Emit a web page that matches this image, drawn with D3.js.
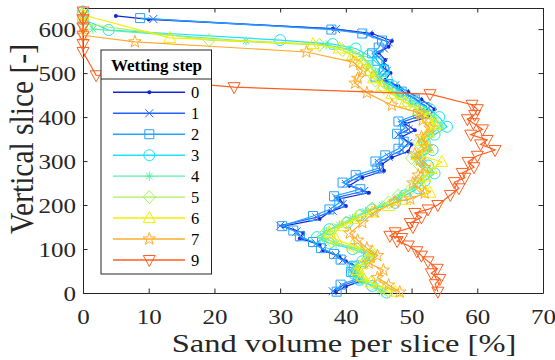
<!DOCTYPE html>
<html>
<head>
<meta charset="utf-8">
<script src="https://cdn.jsdelivr.net/npm/d3@7"></script>
<style>
  body { margin: 0; background: #fff; }
  svg { display: block; }
</style>
</head>
<body>
<svg id="chart" width="555" height="360"></svg>
<script>
// wetting steps shown in the legend
const steps = ["0", "1", "2", "3", "4", "5", "6", "7", "9"];
const colors = ["#1226d6", "#2262ff", "#26a2ff", "#1ee2f6", "#5af0a8", "#aaf05a", "#f4ee00", "#ffac2e", "#ff5e1e"];
const markers = ["dot", "x", "square", "circle", "asterisk", "diamond", "triangle", "star", "triangleDown"];

const xTicks = [0, 10, 20, 30, 40, 50, 60, 70];
const yTicks = [0, 100, 200, 300, 400, 500, 600];

// [sand volume %, vertical slice]
const step0 = [[5,630],[10,622],[38,601],[44,590],[47,573],[46.5,560],[45,546],[46,530],[45.5,515],[46.8,500],[46,485],[48,470],[49.5,457],[51.5,440],[53.5,418],[52.5,400],[49,385],[50.5,370],[48.5,355],[50,338],[49.5,322],[47,308],[45.5,293],[45.8,278],[42.5,262],[40.5,244],[43.5,228],[39,214],[40,198],[37.5,184],[36,168],[30.5,152],[33.5,137],[33,124],[36,110],[36.5,97],[39,83],[40,72],[42,58],[41.5,42],[42.5,28],[40,15],[38.5,3]];
const step1 = [[10.7,623],[38.5,600],[43.5,588],[46.5,570],[45.8,556],[44.5,543],[45.8,525],[46.2,505],[45.2,488],[47.5,472],[49,455],[51,437],[52.5,420],[51.5,404],[48.5,388],[49.5,372],[48,360],[49.5,341],[48.5,325],[46.5,310],[45,296],[45.2,280],[42,265],[40,248],[42.8,232],[38.5,217],[39.5,202],[38,187],[35.5,172],[30,153],[32.5,140],[33.2,126],[35.5,113],[36.5,100],[38.5,86],[39.5,74],[41.5,60],[41,45],[42,30],[39.5,17],[38,4]];
const step2 = [[8.7,625],[37.8,599],[42.5,590],[45.5,574],[45,558],[44,545],[44.8,528],[45.8,508],[44.5,492],[46.5,475],[48.5,458],[50.5,440],[52,423],[51,407],[48,390],[49,375],[47.8,362],[48.8,344],[48,328],[46,313],[44.5,299],[44.8,283],[41.5,268],[39.5,251],[42.2,236],[38.2,220],[39,205],[37.5,190],[35,175],[30.3,152],[32,142],[33,129],[35,116],[36.2,102],[38.2,89],[39.2,76],[41.2,62],[40.8,48],[41.8,33],[39.2,19],[38.6,3]];
const step3 = [[0,640],[0,622],[3.9,598],[30,575],[38,566],[41.5,556],[43.5,540],[44.8,522],[45.8,505],[46.2,488],[47.2,470],[48.5,452],[50.5,435],[52.8,418],[54.2,400],[55.4,378],[53.5,360],[52,342],[53.2,325],[51.2,308],[52.5,290],[53.5,272],[52,255],[51,238],[49,222],[47.5,205],[44,190],[42.2,177],[40.2,160],[37.5,145],[35.6,127],[37.5,113],[41,100],[43.5,86],[42.5,72],[41,58],[41.2,44],[42,30],[44,16],[46.2,1]];
const step4 = [[0,638],[1.5,600],[24.8,573],[37,564],[40.5,554],[42.5,538],[43.5,520],[44.5,502],[45.2,486],[46.5,468],[48,450],[50,432],[52,415],[53.5,398],[54.5,380],[53,362],[51.5,345],[52.5,327],[50.5,310],[51.8,292],[52.8,274],[51.5,257],[50.5,240],[48.5,224],[47.8,216],[45.5,200],[43,186],[41,170],[39,155],[37,140],[36.5,126],[38.5,112],[42.4,98],[44,85],[43,70],[41.5,56],[41.8,41],[42.5,27],[44.5,14],[45.5,2]];
const step5 = [[0,636],[0,612],[19.2,575],[36,564],[39.5,552],[41.5,536],[42.8,518],[43.8,500],[44.5,483],[45.8,466],[47.5,448],[49.5,430],[51.5,412],[53,395],[54,377],[52.5,360],[51,342],[52,325],[50,307],[51.2,290],[52.5,272],[51,255],[50,238],[48,222],[46.5,206],[44,192],[42,176],[40,160],[38,146],[36.5,131],[37.8,117],[41.5,103],[43.8,88],[43.2,74],[42,60],[41.5,46],[42.5,32],[44.8,18],[46.5,4]];
const step6 = [[0,632],[13.2,580],[35,566],[39,556],[41,540],[42.5,522],[43.5,505],[44.2,488],[45.5,470],[47,452],[49,434],[51,416],[52.5,398],[53.5,382],[52.5,364],[51.5,346],[52.5,330],[51,314],[54.6,298],[53,282],[52,265],[51.5,248],[52.8,228],[49,212],[46.5,198],[44,183],[41.5,168],[39.5,152],[37.5,137],[38.5,122],[41,108],[44,95],[43.5,80],[42.5,66],[41.8,52],[42.5,38],[43.8,24],[46,12],[47.5,3]];
const step7 = [[0,628],[0,607],[0,586],[7.9,571],[34,548],[41.1,525],[42.5,505],[41.8,488],[41.4,477],[43.2,455],[47,427],[51.3,409],[51.7,393],[52.8,375],[51.5,355],[52.3,332],[50.5,316],[51.3,302],[52,285],[51,268],[50.2,250],[52,227],[49.8,214],[47.5,207],[44.4,184],[42.5,160],[40.6,136],[41.8,120],[43.2,102],[44.8,85],[43.5,68],[45.7,52],[44.8,35],[46.5,18],[48.2,2]];
const step9 = [[0,640],[0,622],[0,604],[0,585],[0,566],[0,548],[2,495],[23,468],[52.8,452],[59.2,428],[60,418],[59.6,405],[58.5,395],[59.4,386],[60.8,372],[59,360],[61.5,348],[60.5,338],[62.7,325],[60,312],[58.6,298],[59.5,286],[57.7,273],[58.1,262],[56.5,252],[57.2,238],[55.9,223],[54,200],[52.5,190],[50.5,182],[51.5,172],[49.8,159],[50.2,150],[47.5,138],[46.7,130],[48.5,125],[47.8,118],[49.5,108],[50.8,95],[51.5,85],[52.5,72],[53.9,55],[53,45],[54.3,32],[53.6,20],[54,3]];
const series = [step0, step1, step2, step3, step4, step5, step6, step7, step9];

const svg = d3.select("#chart");
const margin = { left: 83, right: 12, top: 8, bottom: 67 };
const width = 555, height = 360;
const axisColor = "#262626";
const serif = '"Liberation Serif", "Times New Roman", serif';

const x = d3.scaleLinear().domain([0, 70]).range([margin.left, width - margin.right]);
const y = d3.scaleLinear().domain([0, 648]).range([height - margin.bottom, margin.top]);

// marker path generators
function markerPath(type) {
    switch (type) {
        case "x": return "M-4,-4L4,4M-4,4L4,-4";
        case "square": return "M-4.5,-4.5H4.5V4.5H-4.5Z";
        case "circle": return d3.symbol(d3.symbolCircle, 95)();
        case "asterisk": return "M-4.5,0H4.5M0,-4.5V4.5M-3.3,-3.3L3.3,3.3M-3.3,3.3L3.3,-3.3";
        case "diamond": return "M0,-6.5L6,0L0,6.5L-6,0Z";
        case "triangle": return "M0,-6.5L6,4.5H-6Z";
        case "triangleDown": return "M0,6.5L6,-4.5H-6Z";
        case "star": {
            let p = "";
            for (let i = 0; i < 10; i++) {
                const r = i % 2 ? 2.6 : 6.5;
                const a = -Math.PI / 2 + i * Math.PI / 5;
                p += (i ? "L" : "M") + (r * Math.cos(a)).toFixed(2) + "," + (r * Math.sin(a)).toFixed(2);
            }
            return p + "Z";
        }
    }
    return "";
}

function drawMarker(sel, i) {
    if (markers[i] === "dot") {
        sel.append("circle").attr("r", 2).attr("fill", colors[i]);
    } else {
        sel.append("path").attr("d", markerPath(markers[i]))
            .attr("fill", "none").attr("stroke", colors[i]).attr("stroke-width", 1);
    }
}

// Axes (ticks inside, box on)
const xAxis = svg.append("g").attr("transform", `translate(0,${y(0)})`)
    .call(d3.axisBottom(x).tickValues(xTicks).tickSize(-4.5).tickSizeOuter(0).tickPadding(17));
svg.append("g").attr("transform", `translate(0,${margin.top})`)
    .call(d3.axisTop(x).tickValues(xTicks).tickSize(-4.5).tickSizeOuter(0).tickFormat(""));
const yAxis = svg.append("g").attr("transform", `translate(${margin.left},0)`)
    .call(d3.axisLeft(y).tickValues(yTicks).tickSize(-4.5).tickSizeOuter(0).tickPadding(7));
svg.append("g").attr("transform", `translate(${width - margin.right},0)`)
    .call(d3.axisRight(y).tickValues(yTicks).tickSize(-4.5).tickSizeOuter(0).tickFormat(""));

svg.selectAll(".domain, .tick line").attr("stroke", axisColor).attr("stroke-width", 1);
svg.selectAll(".tick text").attr("fill", axisColor).style("font-family", serif).style("font-size", "20px");
xAxis.selectAll(".tick text").attr("dy", "0.71em").attr("transform", "scale(1.25,1)");
yAxis.selectAll(".tick text").attr("x", -7 / 1.25).attr("dy", "0.36em").attr("transform", "scale(1.25,1)");

// Series
const line = d3.line().x(d => x(d[0])).y(d => y(d[1]));
const plot = svg.append("g");
series.forEach((data, i) => {
    const g = plot.append("g");
    g.append("path").datum(data).attr("d", line)
        .attr("fill", "none").attr("stroke", colors[i]).attr("stroke-width", 1.2);
    g.selectAll("g.m").data(data).enter().append("g").attr("class", "m")
        .attr("transform", d => `translate(${x(d[0])},${y(d[1])})`)
        .each(function () { drawMarker(d3.select(this), i); });
});

// Axis labels
svg.append("text")
    .attr("transform", `translate(344,352) scale(1.3,1)`)
    .attr("text-anchor", "middle").style("font-family", serif).style("font-size", "25px").attr("fill", axisColor)
    .text("Sand volume per slice [%]");
svg.append("text")
    .attr("transform", `translate(33,139) scale(1.12,1) rotate(-90)`)
    .attr("text-anchor", "middle").style("font-family", serif).style("font-size", "29.5px").attr("fill", axisColor)
    .text("Vertical slice [-]");

// Legend
const legend = svg.append("g");
legend.append("rect").attr("x", 101).attr("y", 50).attr("width", 110.5).attr("height", 224)
    .attr("fill", "#fff").attr("stroke", axisColor).attr("stroke-width", 1);
legend.append("line").attr("x1", 101).attr("x2", 211.5).attr("y1", 79).attr("y2", 79)
    .attr("stroke", axisColor).attr("stroke-width", 1);
legend.append("text").attr("x", 156.5).attr("y", 71).attr("text-anchor", "middle")
    .style("font-family", serif).style("font-size", "17px").style("font-weight", "bold").attr("fill", "#000").text("Wetting step");
steps.forEach((s, i) => {
    const ly = 92.3 + i * 20.96;
    const row = legend.append("g");
    row.append("line").attr("x1", 113).attr("x2", 185).attr("y1", ly).attr("y2", ly)
        .attr("stroke", colors[i]).attr("stroke-width", 1.4);
    drawMarker(row.append("g").attr("transform", `translate(149.3,${ly})`), i);
    row.append("text").attr("x", 191).attr("y", ly + 5.8).style("font-family", serif).style("font-size", "16.5px")
        .attr("fill", "#000").text(s);
});
</script>
</body>
</html>
